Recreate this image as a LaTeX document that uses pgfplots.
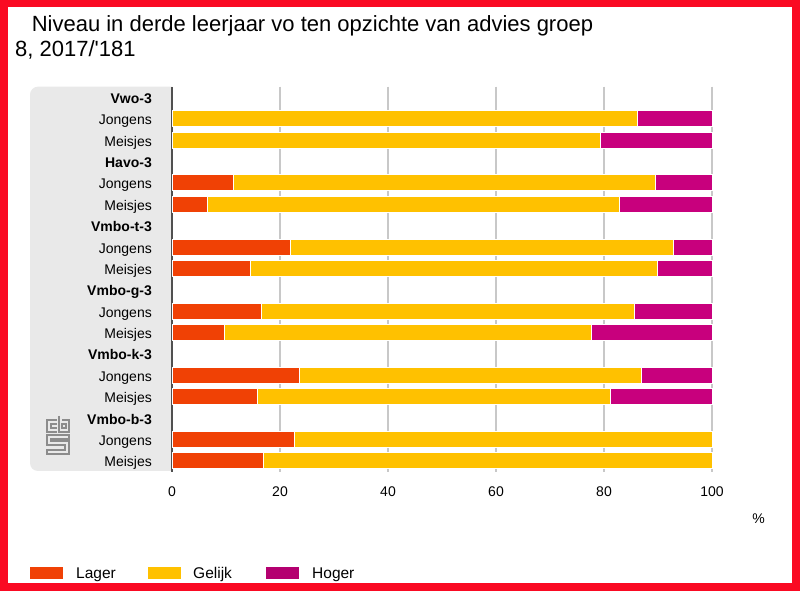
\documentclass[border=0pt]{standalone}
\usepackage{fontspec}
\setmainfont{Liberation Sans}
\newfontfamily\plainfont{Liberation Sans}[Ligatures=TeXOff]
\usepackage{pgfplots}
\pgfplotsset{compat=1.18}
\definecolor{frame}{RGB}{250,10,35}
\definecolor{lager}{RGB}{240,65,5}
\definecolor{gelijk}{RGB}{255,193,0}
\definecolor{hoger}{RGB}{200,0,125}
\definecolor{panel}{RGB}{233,233,233}
\definecolor{gridc}{RGB}{200,200,200}
\definecolor{axc}{RGB}{80,80,80}
\definecolor{logo}{RGB}{140,140,140}
\begin{document}
\begin{tikzpicture}[x=1pt,y=1pt]
\useasboundingbox (0,0) rectangle (800,591);
\fill[frame] (0,0) rectangle (800,591);
\fill[white] (8,8.3) rectangle (792.3,584);
\node[anchor=base west, inner sep=0pt, font=\fontsize{22}{26}\selectfont] at (31.6,559.3) {Niveau in derde leerjaar vo ten opzichte van advies groep};
\node[anchor=base west, inner sep=0pt, font=\plainfont\fontsize{22}{26}\selectfont] at (15,534) {8, 2017/'181};
% grey panel
\fill[panel] (172,120) [rounded corners=8pt] -- (30,120) -- (30,504.3) [sharp corners] -- (172,504.3) -- cycle;
% logo
\begin{scope}[logo, line width=1.1pt]
\draw (57,171) -- (47,171) -- (47,159) -- (57,159);
\draw (57,167) -- (51,167) -- (51,163) -- (57,163);
\draw (59,175) -- (59,159) -- (69,159) -- (69,171) -- (62,171);
\draw (62,167) rectangle (66,163);
\draw (69,156) -- (47,156) -- (47,146) -- (65,146) -- (65,141) -- (47,141) -- (47,137) -- (69,137) -- (69,150) -- (51,150) -- (51,152) -- (69,152) -- cycle;
\end{scope}
\begin{axis}[
  at={(172pt,119.5pt)}, anchor=south west, scale only axis,
  width=540pt, height=384.8pt,
  xmin=0, xmax=100, ymin=-0.5, ymax=17.5, y dir=reverse,
  xbar stacked, bar width=16pt,
  axis line style={draw=none},
  major tick length=0pt,
  xtick={0,20,40,60,80,100},
  ytick={0,...,17},
  yticklabels={\textbf{Vwo-3},Jongens,Meisjes,\textbf{Havo-3},Jongens,Meisjes,\textbf{Vmbo-t-3},Jongens,Meisjes,\textbf{Vmbo-g-3},Jongens,Meisjes,\textbf{Vmbo-k-3},Jongens,Meisjes,\textbf{Vmbo-b-3},Jongens,Meisjes},
  yticklabel style={font=\fontsize{14}{16}\selectfont, anchor=base east, inner sep=0pt, xshift=-20pt, yshift=-6pt},
  xticklabel style={font=\fontsize{14}{16}\selectfont, anchor=base, inner sep=0pt, yshift=-25.2pt},
  /pgf/number format/assume math mode=true,
  xmajorgrids, grid style={gridc, line width=1.3pt},
  clip=false,
]
\addplot[fill=lager, draw=white, line width=0.8pt] coordinates {
(0,1) (0,2) (11.4,4) (6.5,5) (22.0,7) (14.5,8) (16.5,10) (9.7,11) (23.5,13) (15.8,14) (22.6,16) (17.0,17)};
\addplot[fill=gelijk, draw=white, line width=0.8pt] coordinates {
(86.1,1) (79.4,2) (78.2,4) (76.4,5) (70.8,7) (75.3,8) (69.1,10) (68.0,11) (63.5,13) (65.3,14) (77.4,16) (83.0,17)};
\addplot[fill=hoger, draw=white, line width=0.8pt] coordinates {
(13.9,1) (20.6,2) (10.4,4) (17.1,5) (7.2,7) (10.2,8) (14.4,10) (22.3,11) (13.0,13) (18.9,14) (0,16) (0,17)};
\draw[axc, line width=2pt] (rel axis cs:0,0) -- (rel axis cs:0,1);
\end{axis}
\node[anchor=base, inner sep=0pt, font=\fontsize{14}{16}\selectfont] at (758.7,67) {\%};
% legend
\fill[lager] (30,11.7) rectangle (62.7,24.3);
\node[anchor=base west, inner sep=0pt, font=\fontsize{15.5}{18}\selectfont] at (76,12.3) {Lager};
\fill[gelijk] (147.7,11.7) rectangle (180.7,24.3);
\node[anchor=base west, inner sep=0pt, font=\fontsize{15.5}{18}\selectfont] at (193,12.3) {Gelijk};
\fill[hoger!90!black] (266,11.7) rectangle (299,24.3);
\node[anchor=base west, inner sep=0pt, font=\fontsize{15.5}{18}\selectfont] at (312,12.3) {Hoger};
\end{tikzpicture}
\end{document}
